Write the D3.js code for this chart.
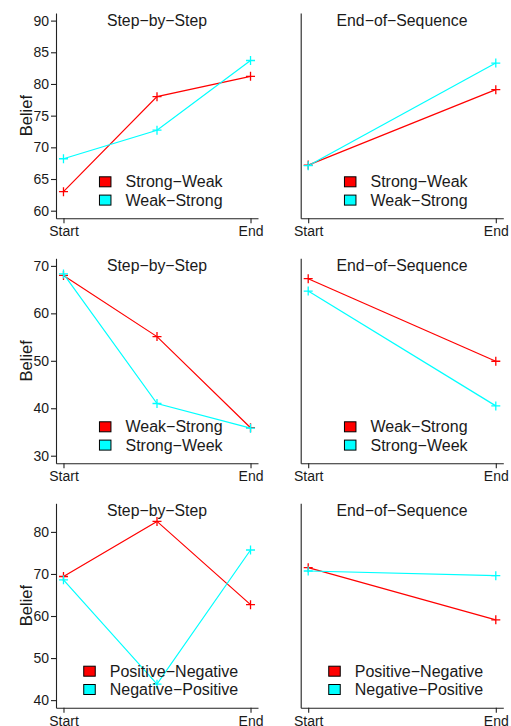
<!DOCTYPE html>
<html><head><meta charset="utf-8">
<script src="https://cdn.jsdelivr.net/npm/d3@7"></script>
<style>body{margin:0;background:#fff}svg{display:block}text{font-family:"Liberation Sans",Arial,sans-serif;fill:#1a1a1a}</style>
</head><body>
<script>
// ---- data ----
const xLabels = ["Start", "End"];
const panelTitles = ["Step\u2212by\u2212Step", "End\u2212of\u2212Sequence"];
const seriesColors = ["#ff0000", "#00ffff"];

const legend1 = ["Strong\u2212Weak", "Weak\u2212Strong"];
const legend2 = ["Weak\u2212Strong", "Strong\u2212Week"];
const legend3 = ["Positive\u2212Negative", "Negative\u2212Positive"];

const ylim1 = [60, 90], ticks1 = [60, 65, 70, 75, 80, 85, 90];
const ylim2 = [30, 70], ticks2 = [30, 40, 50, 60, 70];
const ylim3 = [40, 85], ticks3 = [40, 50, 60, 70, 80];

const step1Red = [63.0, 78.0, 81.2], step1Cyan = [68.2, 72.7, 83.7];
const end1Red = [67.2, 79.1],        end1Cyan = [67.1, 83.3];
const step2Red = [68.0, 55.1, 35.9], step2Cyan = [68.3, 41.0, 35.8];
const end2Red = [67.3, 49.9],        end2Cyan = [64.7, 40.5];
const step3Red = [69.4, 82.5, 62.7], step3Cyan = [68.6, 43.8, 75.7];
const end3Red = [71.5, 59.1],        end3Cyan = [70.7, 69.6];

const rows = [
  {legend: legend1, ylim: ylim1, ticks: ticks1, step: [step1Red, step1Cyan], end: [end1Red, end1Cyan]},
  {legend: legend2, ylim: ylim2, ticks: ticks2, step: [step2Red, step2Cyan], end: [end2Red, end2Cyan]},
  {legend: legend3, ylim: ylim3, ticks: ticks3, step: [step3Red, step3Cyan], end: [end3Red, end3Cyan]}
];

// ---- layout ----
const W = 511, H = 726;
const svg = d3.select("body").append("svg").attr("width", W).attr("height", H);
const colX = [[56, 258], [300.7, 503.3]];
const rowY = [[13, 218.3], [258.3, 463.3], [503.3, 707.7]];
const axisColor = "#222";

function expand(d) { const r = d[1] - d[0]; return [d[0] - 0.04 * r, d[1] + 0.04 * r]; }

rows.forEach((row, ri) => {
  const [top, bottom] = rowY[ri];
  const y = d3.scaleLinear().domain(expand(row.ylim)).range([bottom, top]);
  [0, 1].forEach(ci => {
    const [left, right] = colX[ci];
    const x = d3.scaleLinear().domain(expand([1, 3])).range([left, right]);
    const g = svg.append("g");
    const series = ci === 0 ? row.step : row.end;

    // axes
    const xAxis = d3.axisBottom(x).tickValues([1, 3]).tickFormat((d, i) => xLabels[i]).tickSize(5).tickSizeOuter(0).tickPadding(3);
    const gx = g.append("g").attr("transform", `translate(0,${bottom})`).call(xAxis);
    gx.select(".domain").attr("stroke", axisColor).attr("stroke-width", 1.1);
    gx.selectAll(".tick line").attr("stroke", axisColor).attr("stroke-width", 1.1);
    gx.selectAll(".tick text").attr("font-size", 14).attr("fill", "#1a1a1a")
      .attr("font-family", "Liberation Sans, Arial, sans-serif");

    const yAxis = d3.axisLeft(y).tickValues(ci === 0 ? row.ticks : []).tickSize(5).tickSizeOuter(0).tickPadding(2);
    const gy = g.append("g").attr("transform", `translate(${left},0)`).call(yAxis);
    gy.select(".domain").attr("stroke", axisColor).attr("stroke-width", 1.1);
    gy.selectAll(".tick line").attr("stroke", axisColor).attr("stroke-width", 1.1);
    gy.selectAll(".tick text").attr("font-size", 14).attr("fill", "#1a1a1a")
      .attr("font-family", "Liberation Sans, Arial, sans-serif");

    if (ci === 0) {
      g.append("text").attr("transform", `translate(${left - 24},${(top + bottom) / 2}) rotate(-90)`)
        .attr("text-anchor", "middle").attr("font-size", 16.5).text("Belief");
    }

    const cx = (x(1) + x(3)) / 2;
    g.append("text").attr("x", cx).attr("y", top + 13).attr("text-anchor", "middle")
      .attr("font-size", 15.8).text(panelTitles[ci]);

    // lines + markers
    series.forEach((vals, si) => {
      const xs = ci === 0 ? [1, 2, 3] : [1, 3];
      const pts = vals.map((v, i) => [x(xs[i]), y(v)]);
      g.append("path").attr("d", d3.line()(pts)).attr("fill", "none")
        .attr("stroke", seriesColors[si]).attr("stroke-width", 1.2);
      pts.forEach(p => {
        g.append("path").attr("d", `M${p[0] - 4.5},${p[1]}H${p[0] + 4.5}M${p[0]},${p[1] - 4.5}V${p[1] + 4.5}`)
          .attr("stroke", seriesColors[si]).attr("stroke-width", 1.3).attr("fill", "none");
      });
    });

    // legend
    const lg = g.append("g");
    const texts = row.legend.map((t, i) => lg.append("text").attr("font-size", 16).text(t));
    const tw = d3.max(texts, t => t.node().getComputedTextLength());
    const total = 12 + 14 + tw;
    const lx = cx - total / 2 + 4;
    const ly0 = bottom - 36.5, dy = 18.3;
    row.legend.forEach((t, i) => {
      const yy = ly0 + i * dy;
      lg.append("rect").attr("x", lx).attr("y", yy - 5).attr("width", 11.5).attr("height", 10)
        .attr("fill", seriesColors[i]).attr("stroke", "#000").attr("stroke-width", 1);
      texts[i].attr("x", lx + 26).attr("y", yy + 5.5);
    });
  });
});
</script>
</body></html>
